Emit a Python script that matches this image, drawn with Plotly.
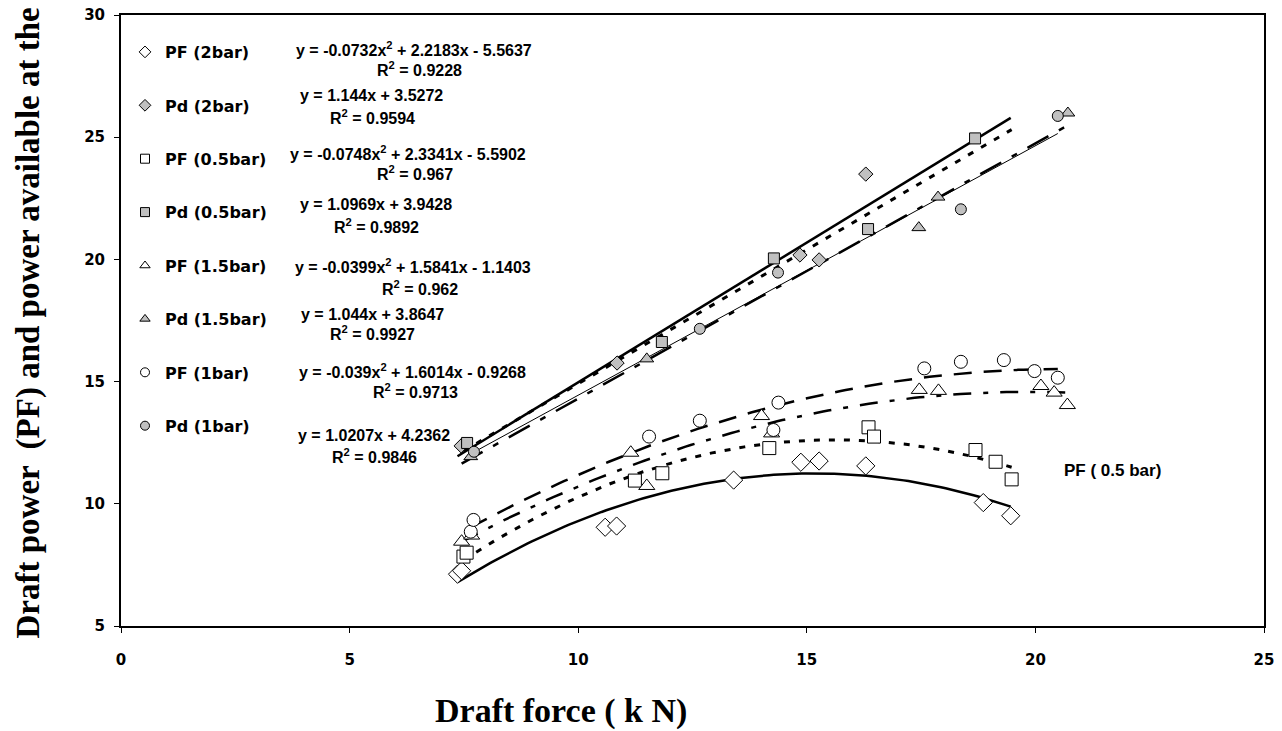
import numpy as np
import plotly.graph_objects as go

# ---------------- data ----------------
pf_2bar_x = [7.36, 7.45, 10.59, 10.84, 13.40, 14.87, 15.27, 16.29, 18.86, 19.46]
pf_2bar_y = [7.12, 7.26, 9.04, 9.09, 10.97, 11.70, 11.75, 11.55, 10.05, 9.51]
pd_2bar_x = [7.44, 10.85, 14.85, 15.27, 16.29]
pd_2bar_y = [12.37, 15.76, 20.18, 19.98, 23.49]

pf_05bar_x = [7.49, 7.56, 11.24, 11.84, 14.18, 16.35, 16.47, 18.69, 19.13, 19.48]
pf_05bar_y = [7.84, 8.00, 10.95, 11.25, 12.28, 13.13, 12.75, 12.20, 11.72, 11.00]
pd_05bar_x = [7.57, 11.83, 14.28, 16.34, 18.68]
pd_05bar_y = [12.49, 16.62, 20.04, 21.24, 24.95]

pf_15bar_x = [7.45, 7.67, 11.15, 11.50, 14.01, 14.23, 17.46, 17.88, 20.12, 20.41, 20.70]
pf_15bar_y = [8.45, 8.70, 12.09, 10.73, 13.59, 12.88, 14.66, 14.62, 14.82, 14.55, 14.04]
pd_15bar_x = [7.65, 11.50, 17.45, 17.87, 20.71]
pd_15bar_y = [11.93, 15.93, 21.30, 22.55, 25.99]

pf_1bar_x = [7.65, 7.71, 11.55, 12.66, 14.27, 14.38, 17.57, 18.37, 19.31, 19.98, 20.49]
pf_1bar_y = [8.86, 9.34, 12.75, 13.40, 13.02, 14.14, 15.54, 15.81, 15.88, 15.43, 15.16]
pd_1bar_x = [7.72, 12.66, 14.37, 18.37, 20.49]
pd_1bar_y = [12.13, 17.16, 19.46, 22.05, 25.87]

# trendline coefficients (highest power first), from the equations shown
coef_pf_2bar = [-0.0732, 2.2183, -5.5637]
coef_pd_2bar = [1.144, 3.5272]
coef_pf_05bar = [-0.0748, 2.3341, -5.5902]
coef_pd_05bar = [1.0969, 3.9428]
coef_pf_15bar = [-0.0399, 1.5841, -1.1403]
coef_pd_15bar = [1.044, 3.8647]
coef_pf_1bar = [-0.039, 1.6014, -0.9268]
coef_pd_1bar = [1.0207, 4.2362]

legend_names = ["PF (2bar)", "Pd (2bar)", "PF (0.5bar)", "Pd (0.5bar)",
                "PF (1.5bar)", "Pd (1.5bar)", "PF (1bar)", "Pd (1bar)"]
eq_line1 = ["y = -0.0732x<sup>2</sup> + 2.2183x - 5.5637",
            "y = 1.144x + 3.5272",
            "y = -0.0748x<sup>2</sup> + 2.3341x - 5.5902",
            "y = 1.0969x + 3.9428",
            "y = -0.0399x<sup>2</sup> + 1.5841x - 1.1403",
            "y = 1.044x + 3.8647",
            "y = -0.039x<sup>2</sup> + 1.6014x - 0.9268",
            "y = 1.0207x + 4.2362"]
eq_line2 = ["R<sup>2</sup> = 0.9228", "R<sup>2</sup> = 0.9594", "R<sup>2</sup> = 0.967",
            "R<sup>2</sup> = 0.9892", "R<sup>2</sup> = 0.962", "R<sup>2</sup> = 0.9927",
            "R<sup>2</sup> = 0.9713", "R<sup>2</sup> = 0.9846"]

x_ticks = [0, 5, 10, 15, 20, 25]
y_ticks = [5, 10, 15, 20, 25, 30]

# ---------------- layout helpers ----------------
# positions below are screen pixels of the reference (page body margin removed below)
W, H = 1282, 731
L, R, T, B = 121, 1264, 15, 626


def px(xp):
    return (xp - L) / (R - L)


def py(yp):
    return (B - yp) / (B - T)


GRAY = "#c0c0c0"
fig = go.Figure()

series = [
    # x, y, coef, symbol, fill, size, line dash, line width, range-source
    (pf_2bar_x, pf_2bar_y, coef_pf_2bar, "diamond", "white", 14, "solid", 2.5, pf_2bar_x),
    (pd_2bar_x, pd_2bar_y, coef_pd_2bar, "diamond", GRAY, 11, "solid", 2.5, pf_2bar_x),
    (pf_05bar_x, pf_05bar_y, coef_pf_05bar, "square", "white", 13, "6px,9px", 3, pf_05bar_x),
    (pd_05bar_x, pd_05bar_y, coef_pd_05bar, "square", GRAY, 11, "6px,9px", 3, pf_05bar_x),
    (pf_15bar_x, pf_15bar_y, coef_pf_15bar, "triangle-up", "white", 14, "18px,12px,5px,12px", 2.5, pf_15bar_x),
    (pd_15bar_x, pd_15bar_y, coef_pd_15bar, "triangle-up", GRAY, 12, "24px,12px,6px,12px", 2.5, pf_15bar_x),
    (pf_1bar_x, pf_1bar_y, coef_pf_1bar, "circle", "white", 13, "18px,12px", 2.5, pf_1bar_x),
    (pd_1bar_x, pd_1bar_y, coef_pd_1bar, "circle", GRAY, 11, "solid", 1, pf_1bar_x),
]

# trendlines first
for xs, ys, coef, sym, fill, size, dash, lw, rng in series:
    tx = np.linspace(min(rng), max(rng), 120)
    ty = np.polyval(coef, tx)
    fig.add_trace(go.Scatter(x=tx, y=ty, mode="lines", showlegend=False,
                             hoverinfo="skip",
                             line=dict(color="black", width=lw, dash=dash)))

# data markers
for (xs, ys, coef, sym, fill, size, dash, lw, rng), name in zip(series, legend_names):
    fig.add_trace(go.Scatter(x=xs, y=ys, mode="markers", name=name, showlegend=False,
                             marker=dict(symbol=sym, size=size, color=fill,
                                         line=dict(color="black", width=1))))

# legend proxies
for i, ((xs, ys, coef, sym, fill, size, dash, lw, rng), name) in enumerate(zip(series, legend_names)):
    fig.add_trace(go.Scatter(x=[None], y=[None], mode="markers", name=name,
                             legendgroup=f"g{i}",
                             marker=dict(symbol=sym, size=9, color=fill,
                                         line=dict(color="black", width=1))))

# equations (reference pixel centres)
eq_pos1 = [(414, 51), (371.5, 98), (408, 155), (375.5, 207), (413, 268), (372, 316), (412, 373), (374, 437)]
eq_pos2 = [(420, 71), (372.5, 119), (415, 175), (376, 228), (419.5, 290), (372, 335), (415, 393), (374, 458)]
annotations = []
eq_font = dict(family="Liberation Sans, Arial", size=16, color="black", weight="bold")
for t, (xp, yp) in zip(eq_line1, eq_pos1):
    annotations.append(dict(x=px(xp), y=py(yp - 2), xref="paper", yref="paper", text=t,
                            showarrow=False, xanchor="center", yanchor="middle", font=eq_font))
for t, (xp, yp) in zip(eq_line2, eq_pos2):
    annotations.append(dict(x=px(xp), y=py(yp - 2), xref="paper", yref="paper", text=t,
                            showarrow=False, xanchor="center", yanchor="middle", font=eq_font))

annotations.append(dict(x=px(1112), y=py(471), xref="paper", yref="paper", text="PF ( 0.5 bar)",
                        showarrow=False, xanchor="center", yanchor="middle",
                        font=dict(family="Liberation Sans, Arial", size=17, color="black", weight="bold")))
annotations.append(dict(x=px(561), y=py(711), xref="paper", yref="paper", text="Draft force ( k N)",
                        showarrow=False, xanchor="center", yanchor="middle",
                        font=dict(family="Liberation Serif, Times New Roman", size=34, color="black", weight="bold")))
annotations.append(dict(x=px(28), y=py(641), xref="paper", yref="paper",
                        text="Draft power  (PF) and power available at the",
                        textangle=-90, showarrow=False, xanchor="center", yanchor="bottom",
                        font=dict(family="Liberation Serif, Times New Roman", size=33, color="black", weight="bold")))

tick_font = dict(family="DejaVu Sans", size=15, color="black", weight="bold")
fig.update_layout(
    width=W, height=H,
    margin=dict(l=L, r=W - R, t=T, b=H - B, pad=0, autoexpand=False),
    plot_bgcolor="white", paper_bgcolor="white",
    annotations=annotations,
    legend=dict(x=px(125), y=py(35), xanchor="left", yanchor="top",
                font=dict(family="DejaVu Sans", size=16, color="black", weight="bold"),
                tracegroupgap=29.6, bgcolor="rgba(0,0,0,0)", borderwidth=0),
    xaxis=dict(range=[0, 25], tickvals=x_ticks, ticks="outside", ticklen=5, tickwidth=1,
               tickcolor="black", showline=True, linecolor="black", linewidth=2, mirror=True,
               showgrid=False, zeroline=False, tickfont=tick_font, ticklabelstandoff=14,
               automargin=False),
    yaxis=dict(range=[5, 30], tickvals=y_ticks, ticks="outside", ticklen=5, tickwidth=1,
               tickcolor="black", showline=True, linecolor="black", linewidth=2, mirror=True,
               showgrid=False, zeroline=False, tickfont=tick_font, ticklabelstandoff=6,
               automargin=False),
)

fig.write_html("out.html",
               config={"displayModeBar": False},
               post_script="document.body.style.margin='0px';document.body.style.overflow='hidden';")
